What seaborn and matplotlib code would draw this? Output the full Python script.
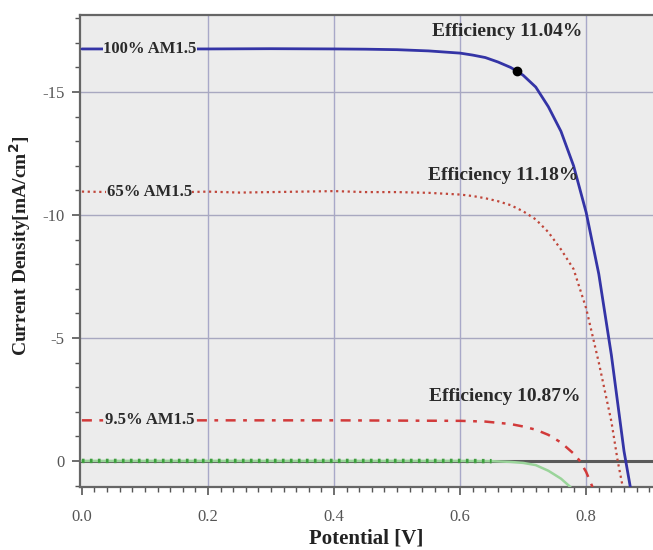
import numpy as np
import pandas as pd
import matplotlib
matplotlib.use("Agg")
import matplotlib.pyplot as plt
from matplotlib.ticker import MultipleLocator
import seaborn as sns

# ---- data ----
v_100 = [0.0, 0.1, 0.2, 0.3, 0.4, 0.45, 0.5, 0.55, 0.6, 0.62, 0.64, 0.66, 0.68, 0.69,
         0.70, 0.72, 0.74, 0.76, 0.78, 0.80, 0.82, 0.84, 0.86, 0.87]
j_100 = [-16.75, -16.75, -16.75, -16.76, -16.75, -16.74, -16.72, -16.67, -16.58, -16.5,
         -16.4, -16.22, -16.0, -15.85, -15.68, -15.2, -14.4, -13.4, -12.0, -10.1, -7.6,
         -4.3, -0.4, 1.06]

v_65 = [0.0, 0.05, 0.1, 0.15, 0.2, 0.25, 0.3, 0.35, 0.4, 0.45, 0.5, 0.55, 0.6, 0.62, 0.64,
        0.66, 0.68, 0.70, 0.72, 0.74, 0.76, 0.78, 0.80, 0.82, 0.84, 0.85, 0.858]
j_65 = [-10.95, -10.93, -10.94, -10.92, -10.95, -10.91, -10.93, -10.95, -10.97, -10.93,
        -10.93, -10.9, -10.83, -10.77, -10.68, -10.56, -10.4, -10.15, -9.82, -9.3, -8.6,
        -7.8, -6.2, -4.0, -1.6, 0.0, 1.06]

v_95 = [0.0, 0.1, 0.2, 0.3, 0.4, 0.5, 0.6, 0.64, 0.68, 0.70, 0.72, 0.74, 0.76, 0.78,
        0.79, 0.80, 0.81]
j_95 = [-1.65, -1.65, -1.65, -1.65, -1.65, -1.64, -1.63, -1.6, -1.5, -1.4, -1.27, -1.06,
        -0.75, -0.3, 0.0, 0.45, 1.06]

v_dark = [0.0, 0.1, 0.2, 0.3, 0.4, 0.5, 0.6, 0.65, 0.68, 0.70, 0.72, 0.74, 0.76, 0.775]
j_dark = [0.0, 0.0, 0.0, 0.0, 0.0, 0.0, 0.0, 0.01, 0.04, 0.08, 0.17, 0.4, 0.72, 1.06]

mpp_point = (0.69, -15.85)

labels = ["100% AM1.5", "65% AM1.5", "9.5% AM1.5"]
label_pos = [(0.108, -16.75), (0.107, -10.95), (0.107, -1.65)]
eff_texts = ["Efficiency 11.04%", "Efficiency 11.18%", "Efficiency 10.87%"]
eff_pos = [(0.675, -17.45), (0.668, -11.6), (0.671, -2.6)]

x_ticks = [0.0, 0.2, 0.4, 0.6, 0.8]
y_ticks = [-15, -10, -5, 0]

# ---- style ----
sns.set_theme(style="ticks")
plt.rcParams["font.family"] = ["Liberation Serif", "DejaVu Serif"]
face = "#ececec"

fig = plt.figure(figsize=(6.53, 5.5), dpi=100)
ax = fig.add_axes([80 / 653, 1 - 487 / 550, 1 - 80 / 653, (487 - 15) / 550])
ax.set_facecolor(face)

# grid
for xv in x_ticks[1:]:
    ax.axvline(xv, color="#a8a8c8", lw=1.0, zorder=1)
for yv in y_ticks[:-1]:
    ax.axhline(yv, color="#a8a8c0", lw=1.0, zorder=1)
ax.axhline(0, color="#5a5a5a", lw=2.2, zorder=2)

df_dark = pd.DataFrame({"V": v_dark, "J": j_dark})
sns.lineplot(data=df_dark, x="V", y="J", ax=ax, color="#9ad49a", lw=1.8,
             sort=False, zorder=3)
flat = df_dark[df_dark["V"] <= 0.65]
sns.lineplot(data=flat, x="V", y="J", ax=ax, color="#3f9f3f", lw=3.2,
             linestyle=(0, (0.6, 1.2)), sort=False, zorder=4)

df95 = pd.DataFrame({"V": v_95, "J": j_95})
sns.lineplot(data=df95, x="V", y="J", ax=ax, color="#d23a3a", lw=1.8,
             linestyle=(0, (4, 3, 1.5, 3)), sort=False, zorder=5)

df65 = pd.DataFrame({"V": v_65, "J": j_65})
sns.lineplot(data=df65, x="V", y="J", ax=ax, color="#c0463a", lw=1.6,
             linestyle=(0, (1, 1.6)), sort=False, zorder=5)

df100 = pd.DataFrame({"V": v_100, "J": j_100})
sns.lineplot(data=df100, x="V", y="J", ax=ax, color="#3434a6", lw=2.0,
             sort=False, zorder=6)
ax.plot([mpp_point[0]], [mpp_point[1]], "o", color="black", ms=6, zorder=7)

for lab, (x, y) in zip(labels, label_pos):
    ax.text(x, y, lab, fontsize=12, fontweight="bold", color="#2a2a2a",
            ha="center", va="center", zorder=8,
            bbox=dict(facecolor=face, edgecolor="none", pad=0.3))
for t, (x, y) in zip(eff_texts, eff_pos):
    ax.text(x, y, t, fontsize=14, fontweight="bold", color="#2a2a2a",
            ha="center", va="center", zorder=8)

ax.set_xlim(-0.003, 0.906)
ax.set_ylim(1.06, -18.13)
ax.set_xticks(x_ticks)
ax.set_xticklabels([f"{v:.1f}" for v in x_ticks])
ax.set_yticks(y_ticks)
ax.set_yticklabels([str(v) for v in y_ticks])
ax.xaxis.set_minor_locator(MultipleLocator(0.02))
ax.yaxis.set_minor_locator(MultipleLocator(1))
ax.tick_params(axis="both", which="major", direction="out", length=6, width=1.2,
               color="#555555", labelsize=12, labelcolor="#555555")
ax.tick_params(axis="x", which="major", pad=10)
ax.tick_params(axis="y", which="major", pad=5)
ax.tick_params(axis="both", which="minor", direction="out", length=3.5, width=1.0,
               color="#555555")

for side in ["left", "bottom", "top"]:
    ax.spines[side].set_color("#666666")
    ax.spines[side].set_linewidth(1.6)
ax.spines["right"].set_visible(False)

ax.set_xlabel("Potential [V]", fontsize=15, fontweight="bold", color="#222222",
              labelpad=2)
ax.set_ylabel("Current Density[mA/cm$^\\mathbf{2}$]", fontsize=14, fontweight="bold",
              color="#222222", labelpad=6)
ax.yaxis.set_label_coords(-0.082, 0.51)

fig.savefig("out.png", dpi=100, facecolor="white")
